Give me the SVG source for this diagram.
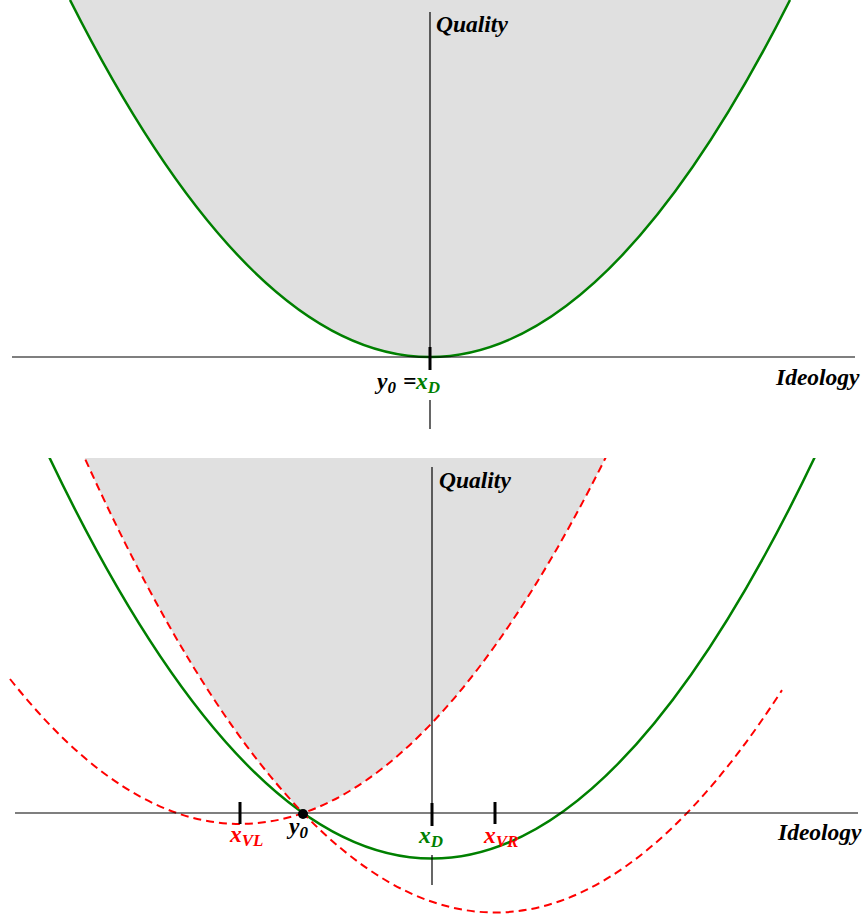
<svg xmlns="http://www.w3.org/2000/svg" width="865" height="917" viewBox="0 0 865 917">
<style>
.fill{fill:#e0e0e0;stroke:none}
.green{fill:none;stroke:#008000;stroke-width:2.5}
.red{fill:none;stroke:#ff0000;stroke-width:2;stroke-dasharray:8,5}
.axis{stroke:#000;stroke-width:1.2;fill:none}
.tick{stroke:#000;stroke-width:3}
.lbl{font-family:"Liberation Serif","Times New Roman",serif;font-weight:bold;font-style:italic;font-size:23.5px;fill:#000}
.sub{font-size:17px}
.g{fill:#008000}
.r{fill:#ff0000}
</style>
<defs>
<clipPath id="clipTop"><rect x="0" y="0" width="865" height="440"/></clipPath>
<clipPath id="clipBot"><rect x="0" y="458" width="865" height="459"/></clipPath>
</defs>
<rect width="865" height="917" fill="#fff"/>
<g id="top-panel" clip-path="url(#clipTop)">
  <path id="top-region" class="fill" d="M70,0 Q430,714 790,0 Z"/>
  <path id="top-curve" class="green" d="M70,0 Q430,714 790,0"/>
</g>
<g id="top-axes">
  <line class="axis" x1="12" y1="357" x2="855" y2="357"/>
  <line class="axis" x1="430" y1="12" x2="430" y2="370"/>
  <line class="axis" x1="430" y1="400" x2="430" y2="429"/>
  <line class="tick" x1="430" y1="347" x2="430" y2="370"/>
  <text class="lbl" x="436" y="32">Quality</text>
  <text class="lbl" x="776" y="385">Ideology</text>
  <text class="lbl" x="377" y="389">y<tspan class="sub" dy="4">0</tspan></text>
  <text class="lbl" x="403" y="389">=</text>
  <text class="lbl g" x="416" y="389">x<tspan class="sub" dy="4">D</tspan></text>
</g>
<g id="bottom-panel" clip-path="url(#clipBot)">
  <path id="bottom-region" class="fill" d="M80,447.5 Q191.5,697.4 303,813 Q456.5,760 610,448.8 Z"/>
  <path id="bottom-green" class="green" d="M42,441.85 Q432,1275.35 822,441.85"/>
  <path id="red-left" class="red" d="M10,679 Q310,1057.1 610,448.8"/>
  <path id="red-right" class="red" d="M80,447.5 Q431,1234.1 782,690.1"/>
</g>
<g id="bottom-axes">
  <line class="axis" x1="15" y1="813" x2="858" y2="813"/>
  <line class="axis" x1="432" y1="467" x2="432" y2="826"/>
  <line class="axis" x1="432" y1="855" x2="432" y2="885"/>
  <line class="tick" x1="240" y1="802" x2="240" y2="824"/>
  <line class="tick" x1="432" y1="803" x2="432" y2="826"/>
  <line class="tick" x1="495" y1="802" x2="495" y2="824"/>
  <circle id="y0-point" cx="303" cy="814" r="5" fill="#000"/>
  <text class="lbl" x="439" y="488">Quality</text>
  <text class="lbl" x="778" y="840">Ideology</text>
  <text class="lbl r" x="230" y="842">x<tspan class="sub" dy="4">VL</tspan></text>
  <text class="lbl" x="289" y="834">y<tspan class="sub" dy="4">0</tspan></text>
  <text class="lbl g" x="419" y="843">x<tspan class="sub" dy="4">D</tspan></text>
  <text class="lbl r" x="484" y="843">x<tspan class="sub" dy="4">VR</tspan></text>
</g>
</svg>
